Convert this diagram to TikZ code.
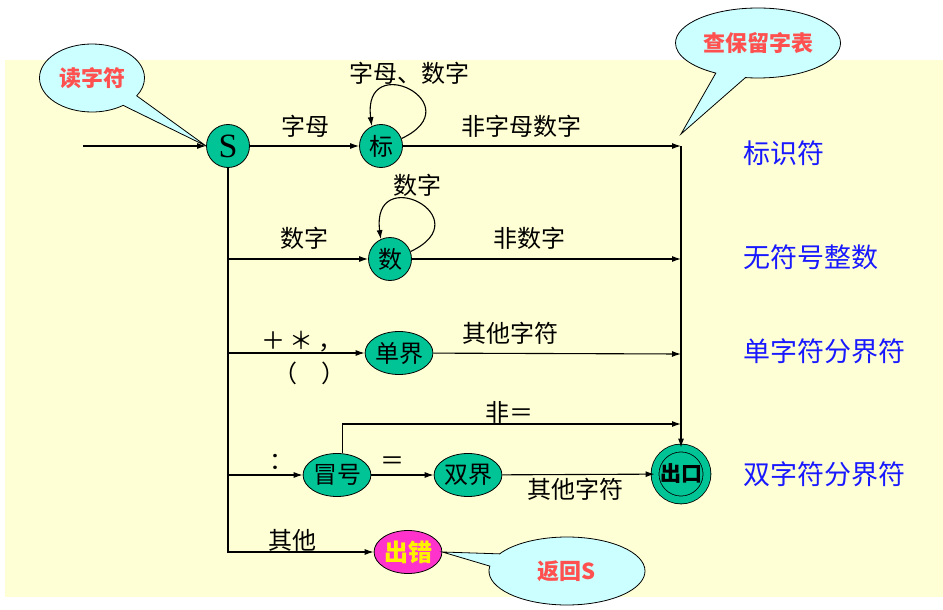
\documentclass[tikz,border=0pt]{standalone}
\usepackage{fontspec}
\setmainfont{Noto Sans CJK SC}
\newfontfamily\latinserif{Liberation Serif}
\usetikzlibrary{arrows.meta,shapes,shapes.callouts,positioning}
\definecolor{tlo}{RGB}{255,255,213}
\definecolor{zielony}{RGB}{0,196,150}
\definecolor{blekit}{RGB}{204,255,255}
\definecolor{czerwony}{RGB}{255,80,80}
\definecolor{rozowy}{RGB}{255,51,204}
\definecolor{niebieski}{RGB}{25,25,255}

\begin{document}
\begin{tikzpicture}[x=1pt,y=-1pt,line width=1.1pt,
  >={Latex[length=9pt,width=6pt]},
  zhuangtai/.style={
  % The shape:
  circle,
  % The size:
  minimum size=43pt, inner sep=0pt,
  % The border:
  draw=black, line width=0.8pt,
  % The filling:
  fill=zielony,
  % Font
  font=\fontsize{24}{24}\selectfont
  },
  tuoyuan/.style={
  % The shape:
  ellipse,
  % The size:
  minimum width=61pt, minimum height=43pt, inner sep=0pt,
  % The border:
  draw=black, line width=0.8pt,
  % The filling:
  fill=zielony,
  % Font
  font=\fontsize{24}{24}\selectfont
  },
  zhongzhi/.style={
  % double circle for the exit state
  circle, minimum size=52pt, inner sep=0pt,
  draw=black, line width=0.8pt,
  double=zielony, double distance=7pt,
  fill=zielony,
  font=\bfseries\fontsize{21}{21}\selectfont
  },
  tishi/.style={
  % The shape:
  ellipse callout, callout pointer arc=22,
  % The border:
  draw=black, line width=0.8pt,
  % The filling:
  fill=blekit,
  % Font
  text=czerwony, font=\bfseries\fontsize{22}{22}\selectfont
  },
  biaoqian/.style={inner sep=0pt, font=\fontsize{24}{24}\selectfont},
  leibie/.style={inner sep=0pt, anchor=west, text=niebieski,
  font=\fontsize{27}{27}\selectfont}]

  \useasboundingbox (0,0) rectangle (943,610);
  \fill[tlo] (5,60) rectangle (943,597);

  % states
  \node (S) [zhuangtai, font=\latinserif\fontsize{34}{34}\selectfont] at (228,146) {S};
  \node (biao) [zhuangtai] at (381,146) {标};
  \node (shu) [zhuangtai] at (390,259) {数};
  \node (danjie) [tuoyuan] at (399,353) {单界};
  \node (maohao) [tuoyuan] at (337,475) {冒号};
  \node (shuangjie) [tuoyuan] at (468,475) {双界};
  \node (chukou) [zhongzhi] at (681,474) {出口};
  \node (chucuo) [tuoyuan, fill=rozowy, text=yellow,
    font=\bfseries\fontsize{24}{24}\selectfont] at (408,552) {出错};

  \coordinate (ru) at (83,146);
  \coordinate (h1) at (681,146);
  \coordinate (h2) at (681,259);
  \coordinate (h3) at (681,354);
  \coordinate (h4) at (681,424);
  \coordinate (cha) at (681,134);

  % transitions
  \draw[->] (ru) to (S);
  \draw[->] (S) to (biao);
  \draw[->] (biao.20) .. controls +(72,-34) and +(-10,-78) .. (biao.115);
  \draw[->] (biao) to (h1);
  \draw[->] (h1) to (chukou);

  \draw[->] (S.south) |- (shu);
  \draw[->] (shu.20) .. controls +(72,-34) and +(-10,-78) .. (shu.115);
  \draw[->] (shu) to (h2);

  \draw[->] (S.south) |- (danjie);
  \draw[->] (danjie) to (h3);

  \draw[->] (S.south) |- (maohao);
  \draw[->] (maohao.75) |- (h4);
  \draw[->] (maohao) to (shuangjie);
  \draw[->] (shuangjie) to (chukou);

  \draw[->] (S.south) |- (chucuo);

  % labels
  \node (l1) [biaoqian] at (409,73) {字母、数字};
  \node (l2) [biaoqian] at (305,126) {字母};
  \node (l3) [biaoqian] at (521,126) {非字母数字};
  \node (l4) [biaoqian] at (417,185) {数字};
  \node (l5) [biaoqian] at (304,238) {数字};
  \node (l6) [biaoqian] at (529,238) {非数字};
  \node (l7) [biaoqian] at (302,342) {＋\hspace{5pt}＊\hspace{5pt}，};
  \node (l8) [biaoqian] at (309,373) {（\hspace{24pt}）};
  \node (l9) [biaoqian] at (510,333) {其他字符};
  \node (l10) [biaoqian] at (509,412) {非＝};
  \node (l11) [biaoqian] at (281,462) {：};
  \node (l12) [biaoqian] at (392,463) {＝};
  \node (l13) [biaoqian] at (575,489) {其他字符};
  \node (l14) [biaoqian] at (292,540) {其他};

  \node (k1) [leibie] at (743,153) {标识符};
  \node (k2) [leibie] at (743,257) {无符号整数};
  \node (k3) [leibie] at (743,351) {单字符分界符};
  \node (k4) [leibie] at (743,474) {双字符分界符};

  % callouts
  \node (duzifu) [tishi, minimum width=105pt, minimum height=68pt,
    callout absolute pointer={(S.west)}] at (92,78) {读字符};
  \node (chabiao) [tishi, minimum width=156pt, minimum height=70pt,
    callout absolute pointer={(cha)}] at (758,43) {查保留字表};
  \node (fanhui) [tishi, minimum width=156pt, minimum height=68pt,
    callout absolute pointer={(chucuo.east)}] at (567,571) {返回S};
\end{tikzpicture}
\end{document}
